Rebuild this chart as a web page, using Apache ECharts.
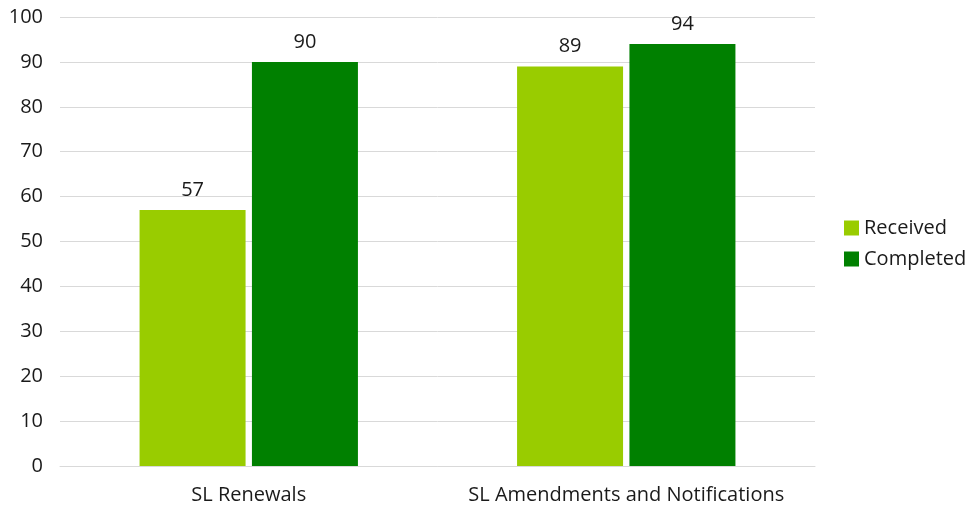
<!DOCTYPE html>
<html><head><meta charset="utf-8">
<script src="https://cdn.jsdelivr.net/npm/echarts@6/dist/echarts.min.js"></script>
<style>html,body{margin:0;padding:0;background:#fff}#c{width:971px;height:507px}</style>
</head><body><div id="c"></div>
<script>
const categories = ["SL Renewals", "SL Amendments and Notifications"];
const received = [57, 89];
const completed = [90, 94];
const yTicks = [0, 100, 10];

const chart = echarts.init(document.getElementById('c'), null, {renderer: 'canvas'});
const font = "'Open Sans', sans-serif";
chart.setOption({
  animation: false,
  textStyle: {fontFamily: font},
  grid: {left: 60, right: 156, top: 17, bottom: 41, containLabel: false},
  legend: {
    orient: 'vertical', left: 844, top: 218, itemWidth: 15, itemHeight: 15, itemGap: 11,
    icon: 'rect', padding: 0,
    textStyle: {fontFamily: font, fontSize: 20, lineHeight: 20, color: '#1a1a1a'},
    data: ['Received', 'Completed']
  },
  xAxis: {
    type: 'category', data: categories,
    axisLine: {show: true, lineStyle: {color: '#d9d9d9', width: 1}},
    axisTick: {show: false},
    axisLabel: {fontFamily: font, fontSize: 20, color: '#1a1a1a', margin: 19, interval: 0, hideOverlap: false}
  },
  yAxis: {
    type: 'value', min: yTicks[0], max: yTicks[1], interval: yTicks[2],
    axisLine: {show: false}, axisTick: {show: false},
    splitLine: {lineStyle: {color: '#d9d9d9', width: 1}},
    axisLabel: {fontFamily: font, fontSize: 20, color: '#1a1a1a', margin: 17}
  },
  series: [
    {name: 'Received', type: 'bar', data: received, barWidth: 106, barGap: '6%',
     itemStyle: {color: '#99cc00'},
     label: {show: true, position: 'top', fontFamily: font, fontSize: 20, color: '#1a1a1a', distance: 10}},
    {name: 'Completed', type: 'bar', data: completed, barWidth: 106,
     itemStyle: {color: '#008000'},
     label: {show: true, position: 'top', fontFamily: font, fontSize: 20, color: '#1a1a1a', distance: 10}}
  ]
});
</script></body></html>
